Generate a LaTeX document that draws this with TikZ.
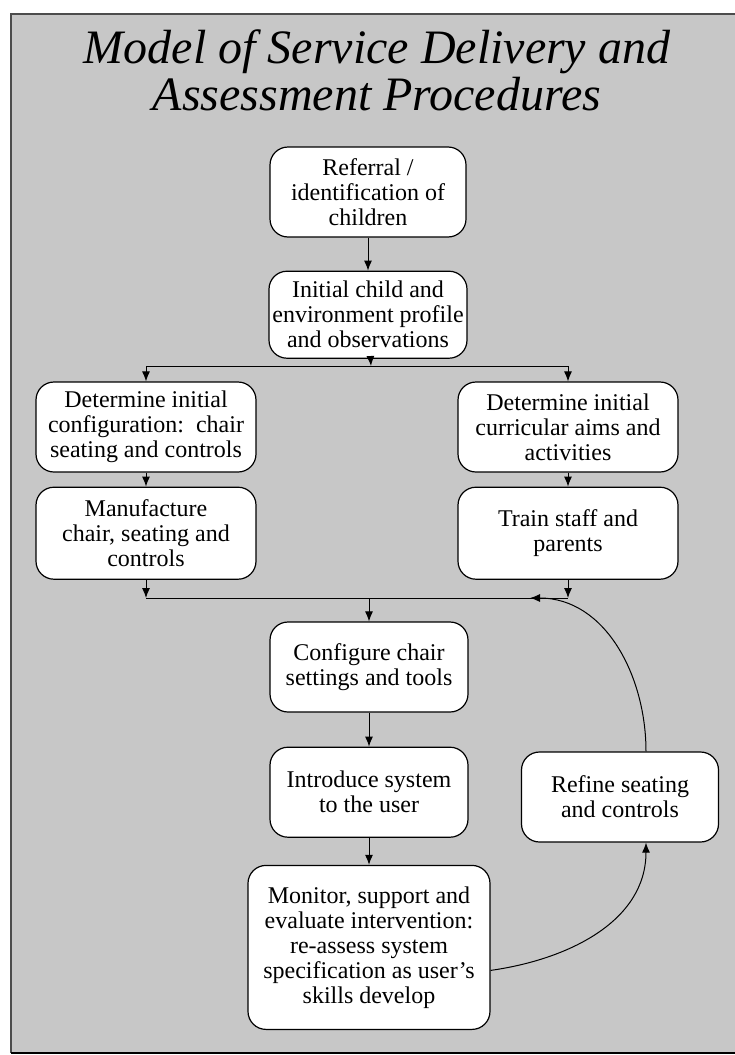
\documentclass[tikz,border=0pt]{standalone}
\usepackage{fontspec}
\setmainfont{Liberation Serif}
\usetikzlibrary{positioning,arrows.meta}

\definecolor{stipple}{gray}{0.78}
\definecolor{rim}{gray}{0.30}

\tikzset{
  stage/.style={draw, fill=white, rounded corners=18pt, line width=1.2pt,
    align=center, inner sep=2pt, font=\fontsize{24}{25}\selectfont},
  flow/.style={line width=1pt, -{Latex[length=10pt,width=8pt]}},
  bus/.style={line width=1pt}
}

\begin{document}
\begin{tikzpicture}[x=1pt,y=-1pt]
\useasboundingbox (0,0) rectangle (735,1055);
\fill[stipple] (11,14) rectangle (735,1053);
\draw[rim, line width=1.5pt] (735,14) -- (11,14) -- (11,1053);
\draw[line width=2.5pt] (11,1053) -- (735,1053);

\node (title) at (377,70) [align=center, font=\fontsize{48}{47}\selectfont\itshape]
  {Model of Service Delivery and\\Assessment Procedures};

\node (referral) at (368,192) [stage, minimum width=196pt, minimum height=90pt]
  {Referral /\\identification of\\children};
\node (profile) [stage, below=33pt of referral, minimum width=198pt, minimum height=87pt]
  {Initial child and\\environment profile\\and observations};
\node (config) at (146,427) [stage, minimum width=220pt, minimum height=90pt]
  {Determine initial\\configuration:\ \ chair\\seating and controls};
\node (manuf) [stage, below=14pt of config, minimum width=220pt, minimum height=92pt]
  {Manufacture\\chair, seating and\\controls};
\node (curric) at (568,427) [stage, minimum width=220pt, minimum height=90pt]
  {Determine initial\\curricular aims and\\activities};
\node (train) [stage, below=14pt of curric, minimum width=220pt, minimum height=92pt]
  {Train staff and\\parents};
\node (setup) at (369,667) [stage, minimum width=198pt, minimum height=90pt]
  {Configure chair\\settings and tools};
\node (intro) [stage, below=34pt of setup, minimum width=198pt, minimum height=90pt]
  {Introduce system\\to the user};
\node (monitor) [stage, below=27pt of intro, minimum width=242pt, minimum height=164pt]
  {Monitor, support and\\evaluate intervention:\\re-assess system\\specification as user's\\skills develop};
\node (refine) at (620,797) [stage, minimum width=197pt, minimum height=90pt]
  {Refine seating\\and controls};

\coordinate (split) at (371,366);
\coordinate (merge) at (369,598);
\coordinate (back) at (530,598);

\draw[flow] (referral) -- (profile);
\draw[flow] (profile) -- (split);
\draw[bus] (config.north |- split) -- (curric.north |- split);
\draw[flow] (config.north |- split) -- (config);
\draw[flow] (split -| curric.north) -- (curric);
\draw[flow] (config) -- (manuf);
\draw[flow] (curric) -- (train);

\draw[bus] (manuf.south |- merge) -- (train.south |- merge);
\draw[flow] (manuf) -- (manuf.south |- merge);
\draw[flow] (train) -- (train.south |- merge);
\draw[flow] (merge) -- (setup);
\draw[flow] (setup) -- (intro);
\draw[flow] (intro) -- (monitor);

\draw[flow] ([yshift=-23pt]monitor.east) to[out=8,in=-90] ([xshift=26pt]refine.south);
\draw[flow] ([xshift=26pt]refine.north) to[out=90,in=0] (back);
\end{tikzpicture}
\end{document}
